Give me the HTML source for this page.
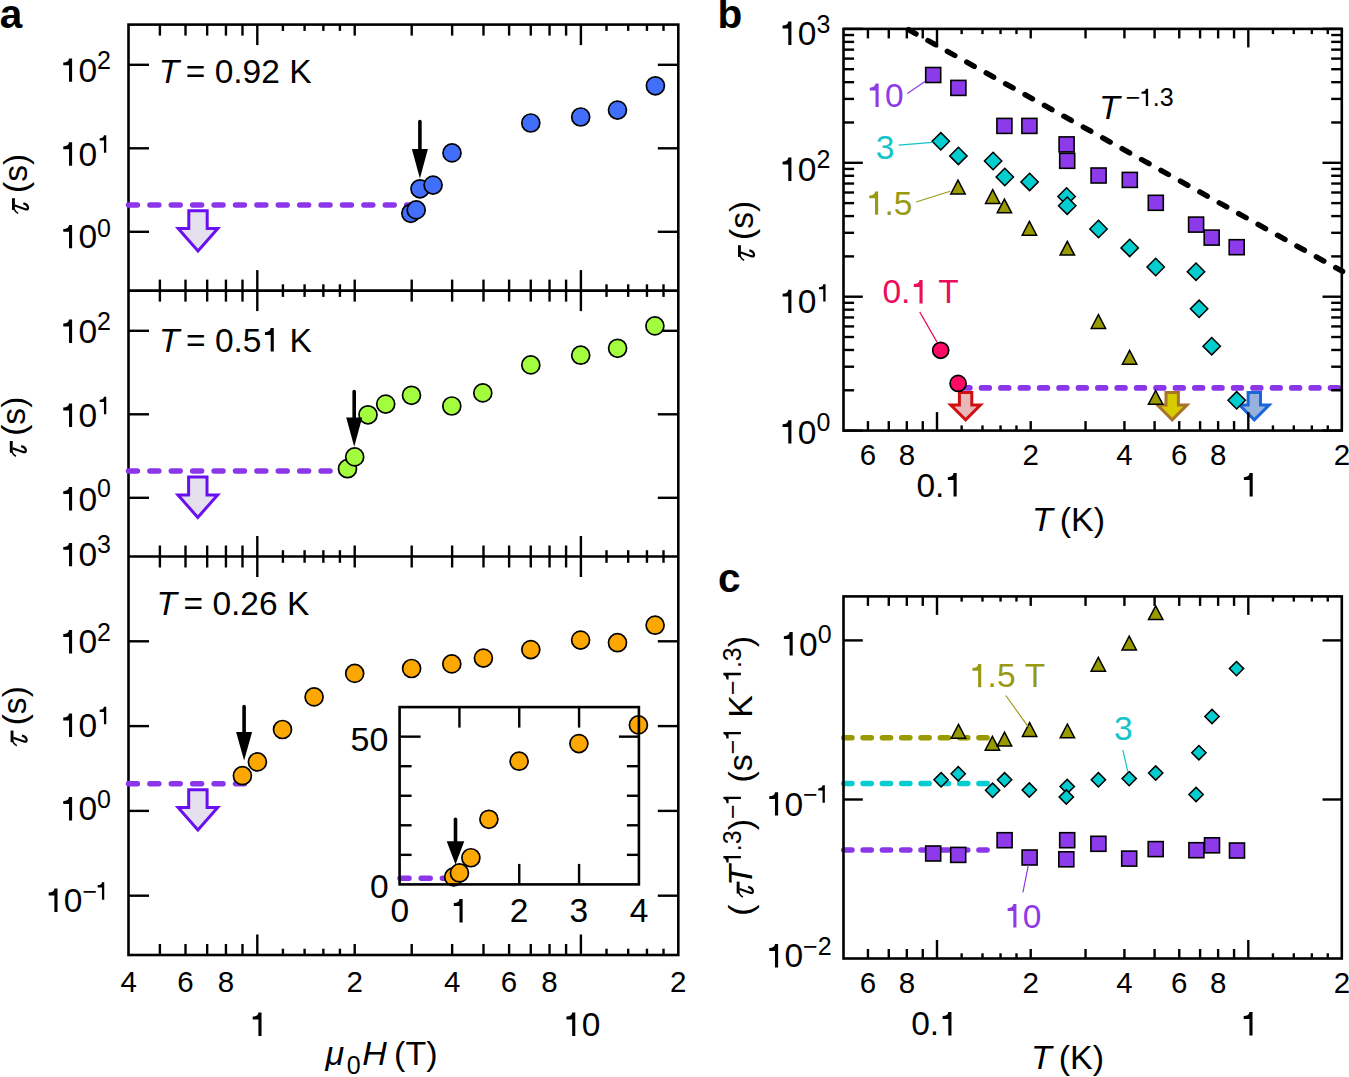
<!DOCTYPE html>
<html><head><meta charset="utf-8"><style>
html,body{margin:0;padding:0;background:#fff;overflow:hidden;}
svg{display:block;}
text{font-family:"Liberation Sans",sans-serif;font-kerning:none;}
</style></head><body>
<svg width="1349" height="1077" viewBox="0 0 1349 1077">
<rect width="1349" height="1077" fill="#fff"/>
<line x1="159.89" y1="24.60" x2="159.89" y2="35.60" stroke="#000" stroke-width="2.4" />
<line x1="185.51" y1="24.60" x2="185.51" y2="35.60" stroke="#000" stroke-width="2.4" />
<line x1="207.17" y1="24.60" x2="207.17" y2="35.60" stroke="#000" stroke-width="2.4" />
<line x1="225.94" y1="24.60" x2="225.94" y2="35.60" stroke="#000" stroke-width="2.4" />
<line x1="242.49" y1="24.60" x2="242.49" y2="35.60" stroke="#000" stroke-width="2.4" />
<line x1="354.71" y1="24.60" x2="354.71" y2="35.60" stroke="#000" stroke-width="2.4" />
<line x1="411.70" y1="24.60" x2="411.70" y2="35.60" stroke="#000" stroke-width="2.4" />
<line x1="452.13" y1="24.60" x2="452.13" y2="35.60" stroke="#000" stroke-width="2.4" />
<line x1="483.49" y1="24.60" x2="483.49" y2="35.60" stroke="#000" stroke-width="2.4" />
<line x1="509.11" y1="24.60" x2="509.11" y2="35.60" stroke="#000" stroke-width="2.4" />
<line x1="530.77" y1="24.60" x2="530.77" y2="35.60" stroke="#000" stroke-width="2.4" />
<line x1="549.54" y1="24.60" x2="549.54" y2="35.60" stroke="#000" stroke-width="2.4" />
<line x1="566.09" y1="24.60" x2="566.09" y2="35.60" stroke="#000" stroke-width="2.4" />
<line x1="282.92" y1="24.60" x2="282.92" y2="30.90" stroke="#000" stroke-width="2.4" />
<line x1="304.59" y1="24.60" x2="304.59" y2="30.90" stroke="#000" stroke-width="2.4" />
<line x1="323.35" y1="24.60" x2="323.35" y2="30.90" stroke="#000" stroke-width="2.4" />
<line x1="339.91" y1="24.60" x2="339.91" y2="30.90" stroke="#000" stroke-width="2.4" />
<line x1="606.52" y1="24.60" x2="606.52" y2="30.90" stroke="#000" stroke-width="2.4" />
<line x1="628.19" y1="24.60" x2="628.19" y2="30.90" stroke="#000" stroke-width="2.4" />
<line x1="646.95" y1="24.60" x2="646.95" y2="30.90" stroke="#000" stroke-width="2.4" />
<line x1="663.51" y1="24.60" x2="663.51" y2="30.90" stroke="#000" stroke-width="2.4" />
<line x1="257.30" y1="24.60" x2="257.30" y2="45.10" stroke="#000" stroke-width="2.4" />
<line x1="580.90" y1="24.60" x2="580.90" y2="45.10" stroke="#000" stroke-width="2.4" />
<line x1="159.89" y1="279.60" x2="159.89" y2="301.60" stroke="#000" stroke-width="2.4" />
<line x1="185.51" y1="279.60" x2="185.51" y2="301.60" stroke="#000" stroke-width="2.4" />
<line x1="207.17" y1="279.60" x2="207.17" y2="301.60" stroke="#000" stroke-width="2.4" />
<line x1="225.94" y1="279.60" x2="225.94" y2="301.60" stroke="#000" stroke-width="2.4" />
<line x1="242.49" y1="279.60" x2="242.49" y2="301.60" stroke="#000" stroke-width="2.4" />
<line x1="354.71" y1="279.60" x2="354.71" y2="301.60" stroke="#000" stroke-width="2.4" />
<line x1="411.70" y1="279.60" x2="411.70" y2="301.60" stroke="#000" stroke-width="2.4" />
<line x1="452.13" y1="279.60" x2="452.13" y2="301.60" stroke="#000" stroke-width="2.4" />
<line x1="483.49" y1="279.60" x2="483.49" y2="301.60" stroke="#000" stroke-width="2.4" />
<line x1="509.11" y1="279.60" x2="509.11" y2="301.60" stroke="#000" stroke-width="2.4" />
<line x1="530.77" y1="279.60" x2="530.77" y2="301.60" stroke="#000" stroke-width="2.4" />
<line x1="549.54" y1="279.60" x2="549.54" y2="301.60" stroke="#000" stroke-width="2.4" />
<line x1="566.09" y1="279.60" x2="566.09" y2="301.60" stroke="#000" stroke-width="2.4" />
<line x1="282.92" y1="284.30" x2="282.92" y2="296.90" stroke="#000" stroke-width="2.4" />
<line x1="304.59" y1="284.30" x2="304.59" y2="296.90" stroke="#000" stroke-width="2.4" />
<line x1="323.35" y1="284.30" x2="323.35" y2="296.90" stroke="#000" stroke-width="2.4" />
<line x1="339.91" y1="284.30" x2="339.91" y2="296.90" stroke="#000" stroke-width="2.4" />
<line x1="606.52" y1="284.30" x2="606.52" y2="296.90" stroke="#000" stroke-width="2.4" />
<line x1="628.19" y1="284.30" x2="628.19" y2="296.90" stroke="#000" stroke-width="2.4" />
<line x1="646.95" y1="284.30" x2="646.95" y2="296.90" stroke="#000" stroke-width="2.4" />
<line x1="663.51" y1="284.30" x2="663.51" y2="296.90" stroke="#000" stroke-width="2.4" />
<line x1="257.30" y1="270.10" x2="257.30" y2="311.10" stroke="#000" stroke-width="2.4" />
<line x1="580.90" y1="270.10" x2="580.90" y2="311.10" stroke="#000" stroke-width="2.4" />
<line x1="159.89" y1="545.50" x2="159.89" y2="567.50" stroke="#000" stroke-width="2.4" />
<line x1="185.51" y1="545.50" x2="185.51" y2="567.50" stroke="#000" stroke-width="2.4" />
<line x1="207.17" y1="545.50" x2="207.17" y2="567.50" stroke="#000" stroke-width="2.4" />
<line x1="225.94" y1="545.50" x2="225.94" y2="567.50" stroke="#000" stroke-width="2.4" />
<line x1="242.49" y1="545.50" x2="242.49" y2="567.50" stroke="#000" stroke-width="2.4" />
<line x1="354.71" y1="545.50" x2="354.71" y2="567.50" stroke="#000" stroke-width="2.4" />
<line x1="411.70" y1="545.50" x2="411.70" y2="567.50" stroke="#000" stroke-width="2.4" />
<line x1="452.13" y1="545.50" x2="452.13" y2="567.50" stroke="#000" stroke-width="2.4" />
<line x1="483.49" y1="545.50" x2="483.49" y2="567.50" stroke="#000" stroke-width="2.4" />
<line x1="509.11" y1="545.50" x2="509.11" y2="567.50" stroke="#000" stroke-width="2.4" />
<line x1="530.77" y1="545.50" x2="530.77" y2="567.50" stroke="#000" stroke-width="2.4" />
<line x1="549.54" y1="545.50" x2="549.54" y2="567.50" stroke="#000" stroke-width="2.4" />
<line x1="566.09" y1="545.50" x2="566.09" y2="567.50" stroke="#000" stroke-width="2.4" />
<line x1="282.92" y1="550.20" x2="282.92" y2="562.80" stroke="#000" stroke-width="2.4" />
<line x1="304.59" y1="550.20" x2="304.59" y2="562.80" stroke="#000" stroke-width="2.4" />
<line x1="323.35" y1="550.20" x2="323.35" y2="562.80" stroke="#000" stroke-width="2.4" />
<line x1="339.91" y1="550.20" x2="339.91" y2="562.80" stroke="#000" stroke-width="2.4" />
<line x1="606.52" y1="550.20" x2="606.52" y2="562.80" stroke="#000" stroke-width="2.4" />
<line x1="628.19" y1="550.20" x2="628.19" y2="562.80" stroke="#000" stroke-width="2.4" />
<line x1="646.95" y1="550.20" x2="646.95" y2="562.80" stroke="#000" stroke-width="2.4" />
<line x1="663.51" y1="550.20" x2="663.51" y2="562.80" stroke="#000" stroke-width="2.4" />
<line x1="257.30" y1="536.00" x2="257.30" y2="577.00" stroke="#000" stroke-width="2.4" />
<line x1="580.90" y1="536.00" x2="580.90" y2="577.00" stroke="#000" stroke-width="2.4" />
<line x1="159.89" y1="944.00" x2="159.89" y2="955.00" stroke="#000" stroke-width="2.4" />
<line x1="185.51" y1="944.00" x2="185.51" y2="955.00" stroke="#000" stroke-width="2.4" />
<line x1="207.17" y1="944.00" x2="207.17" y2="955.00" stroke="#000" stroke-width="2.4" />
<line x1="225.94" y1="944.00" x2="225.94" y2="955.00" stroke="#000" stroke-width="2.4" />
<line x1="242.49" y1="944.00" x2="242.49" y2="955.00" stroke="#000" stroke-width="2.4" />
<line x1="354.71" y1="944.00" x2="354.71" y2="955.00" stroke="#000" stroke-width="2.4" />
<line x1="411.70" y1="944.00" x2="411.70" y2="955.00" stroke="#000" stroke-width="2.4" />
<line x1="452.13" y1="944.00" x2="452.13" y2="955.00" stroke="#000" stroke-width="2.4" />
<line x1="483.49" y1="944.00" x2="483.49" y2="955.00" stroke="#000" stroke-width="2.4" />
<line x1="509.11" y1="944.00" x2="509.11" y2="955.00" stroke="#000" stroke-width="2.4" />
<line x1="530.77" y1="944.00" x2="530.77" y2="955.00" stroke="#000" stroke-width="2.4" />
<line x1="549.54" y1="944.00" x2="549.54" y2="955.00" stroke="#000" stroke-width="2.4" />
<line x1="566.09" y1="944.00" x2="566.09" y2="955.00" stroke="#000" stroke-width="2.4" />
<line x1="282.92" y1="948.70" x2="282.92" y2="955.00" stroke="#000" stroke-width="2.4" />
<line x1="304.59" y1="948.70" x2="304.59" y2="955.00" stroke="#000" stroke-width="2.4" />
<line x1="323.35" y1="948.70" x2="323.35" y2="955.00" stroke="#000" stroke-width="2.4" />
<line x1="339.91" y1="948.70" x2="339.91" y2="955.00" stroke="#000" stroke-width="2.4" />
<line x1="606.52" y1="948.70" x2="606.52" y2="955.00" stroke="#000" stroke-width="2.4" />
<line x1="628.19" y1="948.70" x2="628.19" y2="955.00" stroke="#000" stroke-width="2.4" />
<line x1="646.95" y1="948.70" x2="646.95" y2="955.00" stroke="#000" stroke-width="2.4" />
<line x1="663.51" y1="948.70" x2="663.51" y2="955.00" stroke="#000" stroke-width="2.4" />
<line x1="257.30" y1="934.50" x2="257.30" y2="955.00" stroke="#000" stroke-width="2.4" />
<line x1="580.90" y1="934.50" x2="580.90" y2="955.00" stroke="#000" stroke-width="2.4" />
<line x1="128.50" y1="64.80" x2="149.00" y2="64.80" stroke="#000" stroke-width="2.4" />
<line x1="657.80" y1="64.80" x2="678.30" y2="64.80" stroke="#000" stroke-width="2.4" />
<line x1="128.50" y1="148.30" x2="149.00" y2="148.30" stroke="#000" stroke-width="2.4" />
<line x1="657.80" y1="148.30" x2="678.30" y2="148.30" stroke="#000" stroke-width="2.4" />
<line x1="128.50" y1="231.80" x2="149.00" y2="231.80" stroke="#000" stroke-width="2.4" />
<line x1="657.80" y1="231.80" x2="678.30" y2="231.80" stroke="#000" stroke-width="2.4" />
<line x1="128.50" y1="330.80" x2="149.00" y2="330.80" stroke="#000" stroke-width="2.4" />
<line x1="657.80" y1="330.80" x2="678.30" y2="330.80" stroke="#000" stroke-width="2.4" />
<line x1="128.50" y1="414.30" x2="149.00" y2="414.30" stroke="#000" stroke-width="2.4" />
<line x1="657.80" y1="414.30" x2="678.30" y2="414.30" stroke="#000" stroke-width="2.4" />
<line x1="128.50" y1="497.80" x2="149.00" y2="497.80" stroke="#000" stroke-width="2.4" />
<line x1="657.80" y1="497.80" x2="678.30" y2="497.80" stroke="#000" stroke-width="2.4" />
<line x1="128.50" y1="641.30" x2="149.00" y2="641.30" stroke="#000" stroke-width="2.4" />
<line x1="657.80" y1="641.30" x2="678.30" y2="641.30" stroke="#000" stroke-width="2.4" />
<line x1="128.50" y1="726.10" x2="149.00" y2="726.10" stroke="#000" stroke-width="2.4" />
<line x1="657.80" y1="726.10" x2="678.30" y2="726.10" stroke="#000" stroke-width="2.4" />
<line x1="128.50" y1="810.90" x2="149.00" y2="810.90" stroke="#000" stroke-width="2.4" />
<line x1="657.80" y1="810.90" x2="678.30" y2="810.90" stroke="#000" stroke-width="2.4" />
<line x1="128.50" y1="895.70" x2="149.00" y2="895.70" stroke="#000" stroke-width="2.4" />
<line x1="657.80" y1="895.70" x2="678.30" y2="895.70" stroke="#000" stroke-width="2.4" />
<rect x="128.50" y="24.60" width="549.80" height="930.40" fill="none" stroke="#000" stroke-width="2.6"/>
<line x1="128.50" y1="290.60" x2="678.30" y2="290.60" stroke="#000" stroke-width="2.6" />
<line x1="128.50" y1="556.50" x2="678.30" y2="556.50" stroke="#000" stroke-width="2.6" />
<path d="M750,0L750,1430L560,1430C555,1260 430,1185 210,1180L210,1008L560,1008L560,0Z" transform="translate(59.83,81.80) scale(0.01636,-0.01636)" fill="#000"/>
<text x="78.47" y="81.80" font-size="33.5" fill="#000">0</text>
<text x="97.10" y="69.10" font-size="25" fill="#000">2</text>
<path d="M750,0L750,1430L560,1430C555,1260 430,1185 210,1180L210,1008L560,1008L560,0Z" transform="translate(59.83,165.70) scale(0.01636,-0.01636)" fill="#000"/>
<text x="78.47" y="165.70" font-size="33.5" fill="#000">0</text>
<path d="M750,0L750,1430L560,1430C555,1260 430,1185 210,1180L210,1008L560,1008L560,0Z" transform="translate(97.10,152.80) scale(0.01221,-0.01221)" fill="#000"/>
<path d="M750,0L750,1430L560,1430C555,1260 430,1185 210,1180L210,1008L560,1008L560,0Z" transform="translate(59.83,248.30) scale(0.01636,-0.01636)" fill="#000"/>
<text x="78.47" y="248.30" font-size="33.5" fill="#000">0</text>
<text x="97.10" y="236.75" font-size="25" fill="#000">0</text>
<path d="M750,0L750,1430L560,1430C555,1260 430,1185 210,1180L210,1008L560,1008L560,0Z" transform="translate(59.83,342.90) scale(0.01636,-0.01636)" fill="#000"/>
<text x="78.47" y="342.90" font-size="33.5" fill="#000">0</text>
<text x="97.10" y="330.20" font-size="25" fill="#000">2</text>
<path d="M750,0L750,1430L560,1430C555,1260 430,1185 210,1180L210,1008L560,1008L560,0Z" transform="translate(59.83,426.90) scale(0.01636,-0.01636)" fill="#000"/>
<text x="78.47" y="426.90" font-size="33.5" fill="#000">0</text>
<path d="M750,0L750,1430L560,1430C555,1260 430,1185 210,1180L210,1008L560,1008L560,0Z" transform="translate(97.10,414.20) scale(0.01221,-0.01221)" fill="#000"/>
<path d="M750,0L750,1430L560,1430C555,1260 430,1185 210,1180L210,1008L560,1008L560,0Z" transform="translate(59.83,510.50) scale(0.01636,-0.01636)" fill="#000"/>
<text x="78.47" y="510.50" font-size="33.5" fill="#000">0</text>
<text x="97.10" y="497.00" font-size="25" fill="#000">0</text>
<path d="M750,0L750,1430L560,1430C555,1260 430,1185 210,1180L210,1008L560,1008L560,0Z" transform="translate(59.83,566.30) scale(0.01636,-0.01636)" fill="#000"/>
<text x="78.47" y="566.30" font-size="33.5" fill="#000">0</text>
<text x="97.10" y="553.40" font-size="25" fill="#000">3</text>
<path d="M750,0L750,1430L560,1430C555,1260 430,1185 210,1180L210,1008L560,1008L560,0Z" transform="translate(59.83,653.40) scale(0.01636,-0.01636)" fill="#000"/>
<text x="78.47" y="653.40" font-size="33.5" fill="#000">0</text>
<text x="97.10" y="640.70" font-size="25" fill="#000">2</text>
<path d="M750,0L750,1430L560,1430C555,1260 430,1185 210,1180L210,1008L560,1008L560,0Z" transform="translate(59.83,736.90) scale(0.01636,-0.01636)" fill="#000"/>
<text x="78.47" y="736.90" font-size="33.5" fill="#000">0</text>
<path d="M750,0L750,1430L560,1430C555,1260 430,1185 210,1180L210,1008L560,1008L560,0Z" transform="translate(97.10,724.20) scale(0.01221,-0.01221)" fill="#000"/>
<path d="M750,0L750,1430L560,1430C555,1260 430,1185 210,1180L210,1008L560,1008L560,0Z" transform="translate(59.83,820.40) scale(0.01636,-0.01636)" fill="#000"/>
<text x="78.47" y="820.40" font-size="33.5" fill="#000">0</text>
<text x="97.10" y="808.20" font-size="25" fill="#000">0</text>
<path d="M750,0L750,1430L560,1430C555,1260 430,1185 210,1180L210,1008L560,1008L560,0Z" transform="translate(45.23,911.90) scale(0.01636,-0.01636)" fill="#000"/>
<text x="63.87" y="911.90" font-size="33.5" fill="#000">0</text>
<text x="82.50" y="899.70" font-size="25" fill="#000">−</text>
<path d="M750,0L750,1430L560,1430C555,1260 430,1185 210,1180L210,1008L560,1008L560,0Z" transform="translate(95.10,899.70) scale(0.01221,-0.01221)" fill="#000"/>
<g transform="translate(27.15,213.70) rotate(-90)">
<g transform="translate(-1.23,0.00) scale(1.0000)" fill="none" stroke="#000"><path d="M5.0,-13.7L16.7,-13.7" stroke-width="2.9"/><path d="M6.0,-13.0C4.3,-12.4 2.5,-11.0 1.5,-9.0" stroke-width="1.5"/><path d="M9.4,-12.4C8.3,-8.5 6.3,-4.2 5.6,-1.2C5.2,0.2 5.9,1.0 7.3,0.9C9.3,0.6 11.1,-1.5 11.6,-3.8" stroke-width="2.2"/></g>
<text x="20.67" y="0.00" font-size="33.6" fill="#000">(s)</text>
</g>
<g transform="translate(24.95,456.50) rotate(-90)">
<g transform="translate(-1.23,0.00) scale(1.0000)" fill="none" stroke="#000"><path d="M5.0,-13.7L16.7,-13.7" stroke-width="2.9"/><path d="M6.0,-13.0C4.3,-12.4 2.5,-11.0 1.5,-9.0" stroke-width="1.5"/><path d="M9.4,-12.4C8.3,-8.5 6.3,-4.2 5.6,-1.2C5.2,0.2 5.9,1.0 7.3,0.9C9.3,0.6 11.1,-1.5 11.6,-3.8" stroke-width="2.2"/></g>
<text x="20.67" y="0.00" font-size="33.6" fill="#000">(s)</text>
</g>
<g transform="translate(25.75,746.00) rotate(-90)">
<g transform="translate(-1.23,0.00) scale(1.0000)" fill="none" stroke="#000"><path d="M5.0,-13.7L16.7,-13.7" stroke-width="2.9"/><path d="M6.0,-13.0C4.3,-12.4 2.5,-11.0 1.5,-9.0" stroke-width="1.5"/><path d="M9.4,-12.4C8.3,-8.5 6.3,-4.2 5.6,-1.2C5.2,0.2 5.9,1.0 7.3,0.9C9.3,0.6 11.1,-1.5 11.6,-3.8" stroke-width="2.2"/></g>
<text x="20.67" y="0.00" font-size="33.6" fill="#000">(s)</text>
</g>
<text x="120.42" y="991.80" font-size="29.5" fill="#000">4</text>
<text x="177.21" y="991.80" font-size="29.5" fill="#000">6</text>
<text x="217.74" y="991.80" font-size="29.5" fill="#000">8</text>
<text x="346.51" y="991.80" font-size="29.5" fill="#000">2</text>
<text x="444.02" y="991.80" font-size="29.5" fill="#000">4</text>
<text x="500.81" y="991.80" font-size="29.5" fill="#000">6</text>
<text x="541.34" y="991.80" font-size="29.5" fill="#000">8</text>
<text x="670.11" y="991.80" font-size="29.5" fill="#000">2</text>
<path d="M750,0L750,1430L560,1430C555,1260 430,1185 210,1180L210,1008L560,1008L560,0Z" transform="translate(249.25,1035.90) scale(0.01636,-0.01636)" fill="#000"/>
<path d="M750,0L750,1430L560,1430C555,1260 430,1185 210,1180L210,1008L560,1008L560,0Z" transform="translate(563.01,1035.90) scale(0.01636,-0.01636)" fill="#000"/>
<text x="581.64" y="1035.90" font-size="33.5" fill="#000">0</text>
<text x="325.51" y="1065.30" font-size="34" font-style="italic" fill="#000">μ</text>
<text x="346.82" y="1073.65" font-size="25" fill="#000">0</text>
<text x="362.15" y="1065.30" font-size="34" font-style="italic" fill="#000">H</text>
<text x="394.09" y="1065.30" font-size="34" fill="#000">(T)</text>
<text x="158.69" y="83.30" font-size="33.5" font-style="italic" fill="#000">T</text>
<text x="185.76" y="83.30" font-size="33.5" fill="#000">=</text>
<text x="214.63" y="83.30" font-size="33.5" fill="#000">0.92</text>
<text x="289.14" y="83.30" font-size="33.5" fill="#000">K</text>
<text x="158.99" y="351.50" font-size="33.5" font-style="italic" fill="#000">T</text>
<text x="186.06" y="351.50" font-size="33.5" fill="#000">=</text>
<text x="214.93" y="351.50" font-size="33.5" fill="#000">0.5</text>
<path d="M750,0L750,1430L560,1430C555,1260 430,1185 210,1180L210,1008L560,1008L560,0Z" transform="translate(261.50,351.50) scale(0.01636,-0.01636)" fill="#000"/>
<text x="289.44" y="351.50" font-size="33.5" fill="#000">K</text>
<text x="156.49" y="614.60" font-size="33.5" font-style="italic" fill="#000">T</text>
<text x="183.56" y="614.60" font-size="33.5" fill="#000">=</text>
<text x="212.43" y="614.60" font-size="33.5" fill="#000">0.26</text>
<text x="286.94" y="614.60" font-size="33.5" fill="#000">K</text>
<line x1="128.50" y1="205.00" x2="417.00" y2="205.00" stroke="#8c36ea" stroke-width="5.5" stroke-linecap="round" stroke-dasharray="8.9 12.5" stroke-dashoffset="0"/>
<polygon points="188.80,210.70 207.20,210.70 207.20,228.60 217.80,228.60 198.00,251.00 178.20,228.60 188.80,228.60" fill="#e4e0ee" stroke="#6a10f0" stroke-width="3" stroke-linejoin="miter"/>
<line x1="128.50" y1="470.90" x2="351.40" y2="470.90" stroke="#8c36ea" stroke-width="5.5" stroke-linecap="round" stroke-dasharray="8.9 12.5" stroke-dashoffset="0"/>
<polygon points="188.60,477.10 207.00,477.10 207.00,495.00 217.60,495.00 197.80,517.40 178.00,495.00 188.60,495.00" fill="#e4e0ee" stroke="#6a10f0" stroke-width="3" stroke-linejoin="miter"/>
<line x1="128.50" y1="783.70" x2="244.50" y2="783.70" stroke="#8c36ea" stroke-width="5.5" stroke-linecap="round" stroke-dasharray="8.9 12.5" stroke-dashoffset="0"/>
<polygon points="188.70,789.70 207.10,789.70 207.10,807.60 217.70,807.60 197.90,830.00 178.10,807.60 188.70,807.60" fill="#e4e0ee" stroke="#6a10f0" stroke-width="3" stroke-linejoin="miter"/>
<circle cx="410.80" cy="213.30" r="9.0" fill="#416ffb" stroke="#000" stroke-width="1.7"/>
<circle cx="416.20" cy="209.90" r="9.0" fill="#416ffb" stroke="#000" stroke-width="1.7"/>
<circle cx="420.00" cy="188.80" r="9.0" fill="#416ffb" stroke="#000" stroke-width="1.7"/>
<circle cx="433.10" cy="185.10" r="9.0" fill="#416ffb" stroke="#000" stroke-width="1.7"/>
<circle cx="452.00" cy="152.90" r="9.0" fill="#416ffb" stroke="#000" stroke-width="1.7"/>
<circle cx="530.80" cy="123.00" r="9.0" fill="#416ffb" stroke="#000" stroke-width="1.7"/>
<circle cx="580.70" cy="117.00" r="9.0" fill="#416ffb" stroke="#000" stroke-width="1.7"/>
<circle cx="617.50" cy="110.10" r="9.0" fill="#416ffb" stroke="#000" stroke-width="1.7"/>
<circle cx="655.40" cy="85.80" r="9.0" fill="#416ffb" stroke="#000" stroke-width="1.7"/>
<line x1="419.90" y1="121.50" x2="419.90" y2="150.90" stroke="#000" stroke-width="3.6" stroke-linecap="round"/>
<polygon points="411.90,148.90 427.90,148.90 419.90,178.50" fill="#000"/>
<circle cx="347.50" cy="468.70" r="9.0" fill="#a2fd3e" stroke="#000" stroke-width="1.7"/>
<circle cx="354.70" cy="456.90" r="9.0" fill="#a2fd3e" stroke="#000" stroke-width="1.7"/>
<circle cx="368.00" cy="414.80" r="9.0" fill="#a2fd3e" stroke="#000" stroke-width="1.7"/>
<circle cx="385.70" cy="404.10" r="9.0" fill="#a2fd3e" stroke="#000" stroke-width="1.7"/>
<circle cx="411.50" cy="395.30" r="9.0" fill="#a2fd3e" stroke="#000" stroke-width="1.7"/>
<circle cx="451.80" cy="406.00" r="9.0" fill="#a2fd3e" stroke="#000" stroke-width="1.7"/>
<circle cx="482.80" cy="392.90" r="9.0" fill="#a2fd3e" stroke="#000" stroke-width="1.7"/>
<circle cx="530.80" cy="364.90" r="9.0" fill="#a2fd3e" stroke="#000" stroke-width="1.7"/>
<circle cx="580.70" cy="355.20" r="9.0" fill="#a2fd3e" stroke="#000" stroke-width="1.7"/>
<circle cx="617.60" cy="348.30" r="9.0" fill="#a2fd3e" stroke="#000" stroke-width="1.7"/>
<circle cx="654.90" cy="325.90" r="9.0" fill="#a2fd3e" stroke="#000" stroke-width="1.7"/>
<line x1="354.20" y1="391.50" x2="354.20" y2="419.40" stroke="#000" stroke-width="3.6" stroke-linecap="round"/>
<polygon points="346.20,417.40 362.20,417.40 354.20,446.80" fill="#000"/>
<circle cx="242.40" cy="775.70" r="9.0" fill="#fda802" stroke="#000" stroke-width="1.7"/>
<circle cx="257.40" cy="761.90" r="9.0" fill="#fda802" stroke="#000" stroke-width="1.7"/>
<circle cx="282.50" cy="729.50" r="9.0" fill="#fda802" stroke="#000" stroke-width="1.7"/>
<circle cx="314.10" cy="696.90" r="9.0" fill="#fda802" stroke="#000" stroke-width="1.7"/>
<circle cx="354.70" cy="673.40" r="9.0" fill="#fda802" stroke="#000" stroke-width="1.7"/>
<circle cx="411.60" cy="668.50" r="9.0" fill="#fda802" stroke="#000" stroke-width="1.7"/>
<circle cx="451.80" cy="663.90" r="9.0" fill="#fda802" stroke="#000" stroke-width="1.7"/>
<circle cx="483.40" cy="658.10" r="9.0" fill="#fda802" stroke="#000" stroke-width="1.7"/>
<circle cx="530.80" cy="649.60" r="9.0" fill="#fda802" stroke="#000" stroke-width="1.7"/>
<circle cx="580.60" cy="640.10" r="9.0" fill="#fda802" stroke="#000" stroke-width="1.7"/>
<circle cx="617.50" cy="642.70" r="9.0" fill="#fda802" stroke="#000" stroke-width="1.7"/>
<circle cx="655.10" cy="625.20" r="9.0" fill="#fda802" stroke="#000" stroke-width="1.7"/>
<line x1="244.10" y1="706.50" x2="244.10" y2="734.00" stroke="#000" stroke-width="3.6" stroke-linecap="round"/>
<polygon points="236.10,732.00 252.10,732.00 244.10,760.60" fill="#000"/>
<rect x="399.6" y="707.1" width="239.30" height="177.30" fill="#fff" stroke="none"/>
<line x1="459.43" y1="707.10" x2="459.43" y2="727.60" stroke="#000" stroke-width="2.4" />
<line x1="459.43" y1="884.40" x2="459.43" y2="863.90" stroke="#000" stroke-width="2.4" />
<line x1="519.25" y1="707.10" x2="519.25" y2="727.60" stroke="#000" stroke-width="2.4" />
<line x1="519.25" y1="884.40" x2="519.25" y2="863.90" stroke="#000" stroke-width="2.4" />
<line x1="579.08" y1="707.10" x2="579.08" y2="727.60" stroke="#000" stroke-width="2.4" />
<line x1="579.08" y1="884.40" x2="579.08" y2="863.90" stroke="#000" stroke-width="2.4" />
<line x1="399.60" y1="854.85" x2="411.60" y2="854.85" stroke="#000" stroke-width="2.4" />
<line x1="638.90" y1="854.85" x2="626.90" y2="854.85" stroke="#000" stroke-width="2.4" />
<line x1="399.60" y1="825.30" x2="411.60" y2="825.30" stroke="#000" stroke-width="2.4" />
<line x1="638.90" y1="825.30" x2="626.90" y2="825.30" stroke="#000" stroke-width="2.4" />
<line x1="399.60" y1="795.75" x2="411.60" y2="795.75" stroke="#000" stroke-width="2.4" />
<line x1="638.90" y1="795.75" x2="626.90" y2="795.75" stroke="#000" stroke-width="2.4" />
<line x1="399.60" y1="766.20" x2="411.60" y2="766.20" stroke="#000" stroke-width="2.4" />
<line x1="638.90" y1="766.20" x2="626.90" y2="766.20" stroke="#000" stroke-width="2.4" />
<line x1="399.60" y1="736.65" x2="420.60" y2="736.65" stroke="#000" stroke-width="2.4" />
<line x1="638.90" y1="736.65" x2="618.90" y2="736.65" stroke="#000" stroke-width="2.4" />
<line x1="400.00" y1="878.20" x2="450.00" y2="878.20" stroke="#8c36ea" stroke-width="5.5" stroke-linecap="round" stroke-dasharray="9.0 12.2" stroke-dashoffset="0"/>
<circle cx="453.70" cy="876.90" r="9.0" fill="#fda802" stroke="#000" stroke-width="1.7"/>
<circle cx="459.45" cy="872.95" r="9.0" fill="#fda802" stroke="#000" stroke-width="1.7"/>
<circle cx="470.90" cy="857.75" r="9.0" fill="#fda802" stroke="#000" stroke-width="1.7"/>
<circle cx="488.90" cy="819.30" r="9.0" fill="#fda802" stroke="#000" stroke-width="1.7"/>
<circle cx="519.10" cy="761.20" r="9.0" fill="#fda802" stroke="#000" stroke-width="1.7"/>
<circle cx="578.90" cy="743.60" r="9.0" fill="#fda802" stroke="#000" stroke-width="1.7"/>
<circle cx="638.40" cy="724.90" r="9.0" fill="#fda802" stroke="#000" stroke-width="1.7"/>
<line x1="455.50" y1="819.30" x2="455.50" y2="843.20" stroke="#000" stroke-width="3.6" stroke-linecap="round"/>
<polygon points="446.70,841.20 464.30,841.20 455.50,864.50" fill="#000"/>
<rect x="399.60" y="707.10" width="239.30" height="177.30" fill="none" stroke="#000" stroke-width="2.6"/>
<text x="350.51" y="750.50" font-size="34" fill="#000">50</text>
<text x="369.88" y="897.50" font-size="33.5" fill="#000">0</text>
<text x="390.58" y="922.40" font-size="33.5" fill="#000">0</text>
<path d="M750,0L750,1430L560,1430C555,1260 430,1185 210,1180L210,1008L560,1008L560,0Z" transform="translate(450.35,922.40) scale(0.01636,-0.01636)" fill="#000"/>
<text x="509.78" y="922.40" font-size="33.5" fill="#000">2</text>
<text x="569.38" y="922.40" font-size="33.5" fill="#000">3</text>
<text x="629.69" y="922.40" font-size="33.5" fill="#000">4</text>
<line x1="908.50" y1="29.68" x2="1342.60" y2="271.48" stroke="#000" stroke-width="5.4" stroke-linecap="round" stroke-dasharray="8.6 13.63"/>
<line x1="962.10" y1="387.90" x2="1339.00" y2="387.90" stroke="#8c36ea" stroke-width="5.6" stroke-linecap="round" stroke-dasharray="7.8 11.59" stroke-dashoffset="0"/>
<polygon points="959.40,392.60 971.80,392.60 971.80,405.10 980.40,405.10 965.60,419.80 950.80,405.10 959.40,405.10" fill="#e8b8b8" stroke="#d01010" stroke-width="3" stroke-linejoin="miter"/>
<polygon points="1166.00,392.60 1178.40,392.60 1178.40,405.10 1187.00,405.10 1172.20,419.80 1157.40,405.10 1166.00,405.10" fill="#d6cc00" stroke="#a8742c" stroke-width="3" stroke-linejoin="miter"/>
<polygon points="1248.10,392.60 1260.50,392.60 1260.50,405.10 1269.10,405.10 1254.30,419.80 1239.50,405.10 1248.10,405.10" fill="#98b2de" stroke="#1a66d8" stroke-width="3" stroke-linejoin="miter"/>
<rect x="925.70" y="67.50" width="15.0" height="15.0" fill="#8c3aea" stroke="#000" stroke-width="1.6"/>
<rect x="950.90" y="80.40" width="15.0" height="15.0" fill="#8c3aea" stroke="#000" stroke-width="1.6"/>
<rect x="996.90" y="118.40" width="15.0" height="15.0" fill="#8c3aea" stroke="#000" stroke-width="1.6"/>
<rect x="1021.90" y="118.40" width="15.0" height="15.0" fill="#8c3aea" stroke="#000" stroke-width="1.6"/>
<rect x="1059.10" y="136.90" width="15.0" height="15.0" fill="#8c3aea" stroke="#000" stroke-width="1.6"/>
<rect x="1059.70" y="153.30" width="15.0" height="15.0" fill="#8c3aea" stroke="#000" stroke-width="1.6"/>
<rect x="1091.10" y="168.00" width="15.0" height="15.0" fill="#8c3aea" stroke="#000" stroke-width="1.6"/>
<rect x="1122.30" y="172.40" width="15.0" height="15.0" fill="#8c3aea" stroke="#000" stroke-width="1.6"/>
<rect x="1148.30" y="195.30" width="15.0" height="15.0" fill="#8c3aea" stroke="#000" stroke-width="1.6"/>
<rect x="1188.60" y="217.10" width="15.0" height="15.0" fill="#8c3aea" stroke="#000" stroke-width="1.6"/>
<rect x="1204.20" y="230.10" width="15.0" height="15.0" fill="#8c3aea" stroke="#000" stroke-width="1.6"/>
<rect x="1229.20" y="239.70" width="15.0" height="15.0" fill="#8c3aea" stroke="#000" stroke-width="1.6"/>
<polygon points="940.80,132.60 949.50,141.30 940.80,150.00 932.10,141.30" fill="#04cdd0" stroke="#000" stroke-width="1.5" stroke-linejoin="miter"/>
<polygon points="958.40,147.20 967.10,155.90 958.40,164.60 949.70,155.90" fill="#04cdd0" stroke="#000" stroke-width="1.5" stroke-linejoin="miter"/>
<polygon points="993.10,152.30 1001.80,161.00 993.10,169.70 984.40,161.00" fill="#04cdd0" stroke="#000" stroke-width="1.5" stroke-linejoin="miter"/>
<polygon points="1004.80,168.30 1013.50,177.00 1004.80,185.70 996.10,177.00" fill="#04cdd0" stroke="#000" stroke-width="1.5" stroke-linejoin="miter"/>
<polygon points="1029.60,173.20 1038.30,181.90 1029.60,190.60 1020.90,181.90" fill="#04cdd0" stroke="#000" stroke-width="1.5" stroke-linejoin="miter"/>
<polygon points="1066.60,187.80 1075.30,196.50 1066.60,205.20 1057.90,196.50" fill="#04cdd0" stroke="#000" stroke-width="1.5" stroke-linejoin="miter"/>
<polygon points="1067.20,197.00 1075.90,205.70 1067.20,214.40 1058.50,205.70" fill="#04cdd0" stroke="#000" stroke-width="1.5" stroke-linejoin="miter"/>
<polygon points="1098.50,220.30 1107.20,229.00 1098.50,237.70 1089.80,229.00" fill="#04cdd0" stroke="#000" stroke-width="1.5" stroke-linejoin="miter"/>
<polygon points="1129.70,239.20 1138.40,247.90 1129.70,256.60 1121.00,247.90" fill="#04cdd0" stroke="#000" stroke-width="1.5" stroke-linejoin="miter"/>
<polygon points="1155.70,258.30 1164.40,267.00 1155.70,275.70 1147.00,267.00" fill="#04cdd0" stroke="#000" stroke-width="1.5" stroke-linejoin="miter"/>
<polygon points="1196.00,263.00 1204.70,271.70 1196.00,280.40 1187.30,271.70" fill="#04cdd0" stroke="#000" stroke-width="1.5" stroke-linejoin="miter"/>
<polygon points="1199.10,300.10 1207.80,308.80 1199.10,317.50 1190.40,308.80" fill="#04cdd0" stroke="#000" stroke-width="1.5" stroke-linejoin="miter"/>
<polygon points="1211.70,337.50 1220.40,346.20 1211.70,354.90 1203.00,346.20" fill="#04cdd0" stroke="#000" stroke-width="1.5" stroke-linejoin="miter"/>
<polygon points="1236.70,391.60 1245.40,400.30 1236.70,409.00 1228.00,400.30" fill="#04cdd0" stroke="#000" stroke-width="1.5" stroke-linejoin="miter"/>
<polygon points="958.00,180.20 965.20,194.00 950.80,194.00" fill="#999a00" stroke="#000" stroke-width="1.5" stroke-linejoin="miter"/>
<polygon points="992.70,189.60 999.90,203.40 985.50,203.40" fill="#999a00" stroke="#000" stroke-width="1.5" stroke-linejoin="miter"/>
<polygon points="1004.40,199.05 1011.60,212.85 997.20,212.85" fill="#999a00" stroke="#000" stroke-width="1.5" stroke-linejoin="miter"/>
<polygon points="1029.40,221.45 1036.60,235.25 1022.20,235.25" fill="#999a00" stroke="#000" stroke-width="1.5" stroke-linejoin="miter"/>
<polygon points="1067.30,241.30 1074.50,255.10 1060.10,255.10" fill="#999a00" stroke="#000" stroke-width="1.5" stroke-linejoin="miter"/>
<polygon points="1098.40,314.65 1105.60,328.45 1091.20,328.45" fill="#999a00" stroke="#000" stroke-width="1.5" stroke-linejoin="miter"/>
<polygon points="1129.60,350.45 1136.80,364.25 1122.40,364.25" fill="#999a00" stroke="#000" stroke-width="1.5" stroke-linejoin="miter"/>
<polygon points="1155.60,390.50 1162.80,404.30 1148.40,404.30" fill="#999a00" stroke="#000" stroke-width="1.5" stroke-linejoin="miter"/>
<circle cx="940.70" cy="350.30" r="8.0" fill="#ff0a64" stroke="#000" stroke-width="1.7"/>
<circle cx="958.10" cy="383.40" r="8.0" fill="#ff0a64" stroke="#000" stroke-width="1.7"/>
<line x1="867.94" y1="28.90" x2="867.94" y2="38.40" stroke="#000" stroke-width="2.4" />
<line x1="867.94" y1="430.60" x2="867.94" y2="421.10" stroke="#000" stroke-width="2.4" />
<line x1="888.78" y1="28.90" x2="888.78" y2="38.40" stroke="#000" stroke-width="2.4" />
<line x1="888.78" y1="430.60" x2="888.78" y2="421.10" stroke="#000" stroke-width="2.4" />
<line x1="906.83" y1="28.90" x2="906.83" y2="38.40" stroke="#000" stroke-width="2.4" />
<line x1="906.83" y1="430.60" x2="906.83" y2="421.10" stroke="#000" stroke-width="2.4" />
<line x1="922.76" y1="28.90" x2="922.76" y2="38.40" stroke="#000" stroke-width="2.4" />
<line x1="922.76" y1="430.60" x2="922.76" y2="421.10" stroke="#000" stroke-width="2.4" />
<line x1="1030.71" y1="28.90" x2="1030.71" y2="38.40" stroke="#000" stroke-width="2.4" />
<line x1="1030.71" y1="430.60" x2="1030.71" y2="421.10" stroke="#000" stroke-width="2.4" />
<line x1="1085.53" y1="28.90" x2="1085.53" y2="38.40" stroke="#000" stroke-width="2.4" />
<line x1="1085.53" y1="430.60" x2="1085.53" y2="421.10" stroke="#000" stroke-width="2.4" />
<line x1="1124.42" y1="28.90" x2="1124.42" y2="38.40" stroke="#000" stroke-width="2.4" />
<line x1="1124.42" y1="430.60" x2="1124.42" y2="421.10" stroke="#000" stroke-width="2.4" />
<line x1="1154.59" y1="28.90" x2="1154.59" y2="38.40" stroke="#000" stroke-width="2.4" />
<line x1="1154.59" y1="430.60" x2="1154.59" y2="421.10" stroke="#000" stroke-width="2.4" />
<line x1="1179.24" y1="28.90" x2="1179.24" y2="38.40" stroke="#000" stroke-width="2.4" />
<line x1="1179.24" y1="430.60" x2="1179.24" y2="421.10" stroke="#000" stroke-width="2.4" />
<line x1="1200.08" y1="28.90" x2="1200.08" y2="38.40" stroke="#000" stroke-width="2.4" />
<line x1="1200.08" y1="430.60" x2="1200.08" y2="421.10" stroke="#000" stroke-width="2.4" />
<line x1="1218.13" y1="28.90" x2="1218.13" y2="38.40" stroke="#000" stroke-width="2.4" />
<line x1="1218.13" y1="430.60" x2="1218.13" y2="421.10" stroke="#000" stroke-width="2.4" />
<line x1="1234.06" y1="28.90" x2="1234.06" y2="38.40" stroke="#000" stroke-width="2.4" />
<line x1="1234.06" y1="430.60" x2="1234.06" y2="421.10" stroke="#000" stroke-width="2.4" />
<line x1="961.65" y1="28.90" x2="961.65" y2="34.10" stroke="#000" stroke-width="2.4" />
<line x1="961.65" y1="430.60" x2="961.65" y2="425.40" stroke="#000" stroke-width="2.4" />
<line x1="982.49" y1="28.90" x2="982.49" y2="34.10" stroke="#000" stroke-width="2.4" />
<line x1="982.49" y1="430.60" x2="982.49" y2="425.40" stroke="#000" stroke-width="2.4" />
<line x1="1000.54" y1="28.90" x2="1000.54" y2="34.10" stroke="#000" stroke-width="2.4" />
<line x1="1000.54" y1="430.60" x2="1000.54" y2="425.40" stroke="#000" stroke-width="2.4" />
<line x1="1016.47" y1="28.90" x2="1016.47" y2="34.10" stroke="#000" stroke-width="2.4" />
<line x1="1016.47" y1="430.60" x2="1016.47" y2="425.40" stroke="#000" stroke-width="2.4" />
<line x1="1272.95" y1="28.90" x2="1272.95" y2="34.10" stroke="#000" stroke-width="2.4" />
<line x1="1272.95" y1="430.60" x2="1272.95" y2="425.40" stroke="#000" stroke-width="2.4" />
<line x1="1293.79" y1="28.90" x2="1293.79" y2="34.10" stroke="#000" stroke-width="2.4" />
<line x1="1293.79" y1="430.60" x2="1293.79" y2="425.40" stroke="#000" stroke-width="2.4" />
<line x1="1311.84" y1="28.90" x2="1311.84" y2="34.10" stroke="#000" stroke-width="2.4" />
<line x1="1311.84" y1="430.60" x2="1311.84" y2="425.40" stroke="#000" stroke-width="2.4" />
<line x1="1327.77" y1="28.90" x2="1327.77" y2="34.10" stroke="#000" stroke-width="2.4" />
<line x1="1327.77" y1="430.60" x2="1327.77" y2="425.40" stroke="#000" stroke-width="2.4" />
<line x1="937.00" y1="28.90" x2="937.00" y2="47.40" stroke="#000" stroke-width="2.4" />
<line x1="937.00" y1="430.60" x2="937.00" y2="412.10" stroke="#000" stroke-width="2.4" />
<line x1="1248.30" y1="28.90" x2="1248.30" y2="47.40" stroke="#000" stroke-width="2.4" />
<line x1="1248.30" y1="430.60" x2="1248.30" y2="412.10" stroke="#000" stroke-width="2.4" />
<line x1="843.50" y1="390.29" x2="854.10" y2="390.29" stroke="#000" stroke-width="2.4" />
<line x1="1341.80" y1="390.29" x2="1331.20" y2="390.29" stroke="#000" stroke-width="2.4" />
<line x1="843.50" y1="366.71" x2="854.10" y2="366.71" stroke="#000" stroke-width="2.4" />
<line x1="1341.80" y1="366.71" x2="1331.20" y2="366.71" stroke="#000" stroke-width="2.4" />
<line x1="843.50" y1="349.98" x2="854.10" y2="349.98" stroke="#000" stroke-width="2.4" />
<line x1="1341.80" y1="349.98" x2="1331.20" y2="349.98" stroke="#000" stroke-width="2.4" />
<line x1="843.50" y1="337.01" x2="854.10" y2="337.01" stroke="#000" stroke-width="2.4" />
<line x1="1341.80" y1="337.01" x2="1331.20" y2="337.01" stroke="#000" stroke-width="2.4" />
<line x1="843.50" y1="326.41" x2="854.10" y2="326.41" stroke="#000" stroke-width="2.4" />
<line x1="1341.80" y1="326.41" x2="1331.20" y2="326.41" stroke="#000" stroke-width="2.4" />
<line x1="843.50" y1="317.44" x2="854.10" y2="317.44" stroke="#000" stroke-width="2.4" />
<line x1="1341.80" y1="317.44" x2="1331.20" y2="317.44" stroke="#000" stroke-width="2.4" />
<line x1="843.50" y1="309.68" x2="854.10" y2="309.68" stroke="#000" stroke-width="2.4" />
<line x1="1341.80" y1="309.68" x2="1331.20" y2="309.68" stroke="#000" stroke-width="2.4" />
<line x1="843.50" y1="302.83" x2="854.10" y2="302.83" stroke="#000" stroke-width="2.4" />
<line x1="1341.80" y1="302.83" x2="1331.20" y2="302.83" stroke="#000" stroke-width="2.4" />
<line x1="843.50" y1="256.39" x2="854.10" y2="256.39" stroke="#000" stroke-width="2.4" />
<line x1="1341.80" y1="256.39" x2="1331.20" y2="256.39" stroke="#000" stroke-width="2.4" />
<line x1="843.50" y1="232.81" x2="854.10" y2="232.81" stroke="#000" stroke-width="2.4" />
<line x1="1341.80" y1="232.81" x2="1331.20" y2="232.81" stroke="#000" stroke-width="2.4" />
<line x1="843.50" y1="216.08" x2="854.10" y2="216.08" stroke="#000" stroke-width="2.4" />
<line x1="1341.80" y1="216.08" x2="1331.20" y2="216.08" stroke="#000" stroke-width="2.4" />
<line x1="843.50" y1="203.11" x2="854.10" y2="203.11" stroke="#000" stroke-width="2.4" />
<line x1="1341.80" y1="203.11" x2="1331.20" y2="203.11" stroke="#000" stroke-width="2.4" />
<line x1="843.50" y1="192.51" x2="854.10" y2="192.51" stroke="#000" stroke-width="2.4" />
<line x1="1341.80" y1="192.51" x2="1331.20" y2="192.51" stroke="#000" stroke-width="2.4" />
<line x1="843.50" y1="183.54" x2="854.10" y2="183.54" stroke="#000" stroke-width="2.4" />
<line x1="1341.80" y1="183.54" x2="1331.20" y2="183.54" stroke="#000" stroke-width="2.4" />
<line x1="843.50" y1="175.78" x2="854.10" y2="175.78" stroke="#000" stroke-width="2.4" />
<line x1="1341.80" y1="175.78" x2="1331.20" y2="175.78" stroke="#000" stroke-width="2.4" />
<line x1="843.50" y1="168.93" x2="854.10" y2="168.93" stroke="#000" stroke-width="2.4" />
<line x1="1341.80" y1="168.93" x2="1331.20" y2="168.93" stroke="#000" stroke-width="2.4" />
<line x1="843.50" y1="122.49" x2="854.10" y2="122.49" stroke="#000" stroke-width="2.4" />
<line x1="1341.80" y1="122.49" x2="1331.20" y2="122.49" stroke="#000" stroke-width="2.4" />
<line x1="843.50" y1="98.91" x2="854.10" y2="98.91" stroke="#000" stroke-width="2.4" />
<line x1="1341.80" y1="98.91" x2="1331.20" y2="98.91" stroke="#000" stroke-width="2.4" />
<line x1="843.50" y1="82.18" x2="854.10" y2="82.18" stroke="#000" stroke-width="2.4" />
<line x1="1341.80" y1="82.18" x2="1331.20" y2="82.18" stroke="#000" stroke-width="2.4" />
<line x1="843.50" y1="69.21" x2="854.10" y2="69.21" stroke="#000" stroke-width="2.4" />
<line x1="1341.80" y1="69.21" x2="1331.20" y2="69.21" stroke="#000" stroke-width="2.4" />
<line x1="843.50" y1="58.61" x2="854.10" y2="58.61" stroke="#000" stroke-width="2.4" />
<line x1="1341.80" y1="58.61" x2="1331.20" y2="58.61" stroke="#000" stroke-width="2.4" />
<line x1="843.50" y1="49.64" x2="854.10" y2="49.64" stroke="#000" stroke-width="2.4" />
<line x1="1341.80" y1="49.64" x2="1331.20" y2="49.64" stroke="#000" stroke-width="2.4" />
<line x1="843.50" y1="41.88" x2="854.10" y2="41.88" stroke="#000" stroke-width="2.4" />
<line x1="1341.80" y1="41.88" x2="1331.20" y2="41.88" stroke="#000" stroke-width="2.4" />
<line x1="843.50" y1="35.03" x2="854.10" y2="35.03" stroke="#000" stroke-width="2.4" />
<line x1="1341.80" y1="35.03" x2="1331.20" y2="35.03" stroke="#000" stroke-width="2.4" />
<line x1="843.50" y1="430.60" x2="862.80" y2="430.60" stroke="#000" stroke-width="2.4" />
<line x1="1341.80" y1="430.60" x2="1322.50" y2="430.60" stroke="#000" stroke-width="2.4" />
<line x1="843.50" y1="296.70" x2="862.80" y2="296.70" stroke="#000" stroke-width="2.4" />
<line x1="1341.80" y1="296.70" x2="1322.50" y2="296.70" stroke="#000" stroke-width="2.4" />
<line x1="843.50" y1="162.80" x2="862.80" y2="162.80" stroke="#000" stroke-width="2.4" />
<line x1="1341.80" y1="162.80" x2="1322.50" y2="162.80" stroke="#000" stroke-width="2.4" />
<line x1="843.50" y1="28.90" x2="862.80" y2="28.90" stroke="#000" stroke-width="2.4" />
<line x1="1341.80" y1="28.90" x2="1322.50" y2="28.90" stroke="#000" stroke-width="2.4" />
<rect x="843.50" y="28.90" width="498.30" height="401.70" fill="none" stroke="#000" stroke-width="2.6"/>
<path d="M750,0L750,1430L560,1430C555,1260 430,1185 210,1180L210,1008L560,1008L560,0Z" transform="translate(866.36,107.00) scale(0.01636,-0.01636)" fill="#8e3ae6"/>
<text x="885.00" y="107.00" font-size="33.5" fill="#8e3ae6">0</text>
<line x1="907.30" y1="93.50" x2="925.00" y2="81.60" stroke="#8e3ae6" stroke-width="1.2" />
<text x="875.82" y="159.30" font-size="33.5" fill="#14c4c8">3</text>
<line x1="898.50" y1="145.20" x2="932.60" y2="142.30" stroke="#14c4c8" stroke-width="1.2" />
<path d="M750,0L750,1430L560,1430C555,1260 430,1185 210,1180L210,1008L560,1008L560,0Z" transform="translate(865.86,214.80) scale(0.01636,-0.01636)" fill="#9a9a12"/>
<text x="884.50" y="214.80" font-size="33.5" fill="#9a9a12">.5</text>
<line x1="916.10" y1="202.00" x2="950.20" y2="191.20" stroke="#9a9a12" stroke-width="1.2" />
<text x="882.39" y="303.40" font-size="33.5" fill="#ec0c5c">0.</text>
<path d="M750,0L750,1430L560,1430C555,1260 430,1185 210,1180L210,1008L560,1008L560,0Z" transform="translate(910.33,303.40) scale(0.01636,-0.01636)" fill="#ec0c5c"/>
<text x="938.27" y="303.40" font-size="33.5" fill="#ec0c5c">T</text>
<line x1="919.70" y1="311.90" x2="937.00" y2="342.10" stroke="#ec0c5c" stroke-width="1.2" />
<text x="1098.95" y="118.70" font-size="34" font-style="italic" fill="#000">T</text>
<text x="1125.67" y="106.10" font-size="25" fill="#000">−</text>
<path d="M750,0L750,1430L560,1430C555,1260 430,1185 210,1180L210,1008L560,1008L560,0Z" transform="translate(1138.97,106.10) scale(0.01221,-0.01221)" fill="#000"/>
<text x="1152.87" y="106.10" font-size="25" fill="#000">.3</text>
<path d="M750,0L750,1430L560,1430C555,1260 430,1185 210,1180L210,1008L560,1008L560,0Z" transform="translate(779.13,44.90) scale(0.01636,-0.01636)" fill="#000"/>
<text x="797.77" y="44.90" font-size="33.5" fill="#000">0</text>
<text x="816.40" y="32.65" font-size="25" fill="#000">3</text>
<path d="M750,0L750,1430L560,1430C555,1260 430,1185 210,1180L210,1008L560,1008L560,0Z" transform="translate(779.13,181.00) scale(0.01636,-0.01636)" fill="#000"/>
<text x="797.77" y="181.00" font-size="33.5" fill="#000">0</text>
<text x="816.40" y="168.30" font-size="25" fill="#000">2</text>
<path d="M750,0L750,1430L560,1430C555,1260 430,1185 210,1180L210,1008L560,1008L560,0Z" transform="translate(779.13,313.10) scale(0.01636,-0.01636)" fill="#000"/>
<text x="797.77" y="313.10" font-size="33.5" fill="#000">0</text>
<path d="M750,0L750,1430L560,1430C555,1260 430,1185 210,1180L210,1008L560,1008L560,0Z" transform="translate(816.40,301.60) scale(0.01221,-0.01221)" fill="#000"/>
<path d="M750,0L750,1430L560,1430C555,1260 430,1185 210,1180L210,1008L560,1008L560,0Z" transform="translate(779.13,443.60) scale(0.01636,-0.01636)" fill="#000"/>
<text x="797.77" y="443.60" font-size="33.5" fill="#000">0</text>
<text x="816.40" y="431.15" font-size="25" fill="#000">0</text>
<g transform="translate(753.15,260.70) rotate(-90)">
<g transform="translate(-1.23,0.00) scale(1.0000)" fill="none" stroke="#000"><path d="M5.0,-13.7L16.7,-13.7" stroke-width="2.9"/><path d="M6.0,-13.0C4.3,-12.4 2.5,-11.0 1.5,-9.0" stroke-width="1.5"/><path d="M9.4,-12.4C8.3,-8.5 6.3,-4.2 5.6,-1.2C5.2,0.2 5.9,1.0 7.3,0.9C9.3,0.6 11.1,-1.5 11.6,-3.8" stroke-width="2.2"/></g>
<text x="20.67" y="0.00" font-size="33.6" fill="#000">(s)</text>
</g>
<text x="859.63" y="465.10" font-size="29.5" fill="#000">6</text>
<text x="898.63" y="465.10" font-size="29.5" fill="#000">8</text>
<text x="1022.51" y="465.10" font-size="29.5" fill="#000">2</text>
<text x="1116.31" y="465.10" font-size="29.5" fill="#000">4</text>
<text x="1170.93" y="465.10" font-size="29.5" fill="#000">6</text>
<text x="1209.93" y="465.10" font-size="29.5" fill="#000">8</text>
<text x="1333.81" y="465.10" font-size="29.5" fill="#000">2</text>
<text x="916.44" y="496.50" font-size="33.5" fill="#000">0.</text>
<path d="M750,0L750,1430L560,1430C555,1260 430,1185 210,1180L210,1008L560,1008L560,0Z" transform="translate(944.38,496.50) scale(0.01636,-0.01636)" fill="#000"/>
<path d="M750,0L750,1430L560,1430C555,1260 430,1185 210,1180L210,1008L560,1008L560,0Z" transform="translate(1240.45,496.50) scale(0.01636,-0.01636)" fill="#000"/>
<text x="1031.95" y="531.40" font-size="34" font-style="italic" fill="#000">T</text>
<text x="1059.71" y="531.40" font-size="34" fill="#000">(K)</text>
<line x1="867.94" y1="596.40" x2="867.94" y2="605.90" stroke="#000" stroke-width="2.4" />
<line x1="867.94" y1="958.50" x2="867.94" y2="949.00" stroke="#000" stroke-width="2.4" />
<line x1="888.78" y1="596.40" x2="888.78" y2="605.90" stroke="#000" stroke-width="2.4" />
<line x1="888.78" y1="958.50" x2="888.78" y2="949.00" stroke="#000" stroke-width="2.4" />
<line x1="906.83" y1="596.40" x2="906.83" y2="605.90" stroke="#000" stroke-width="2.4" />
<line x1="906.83" y1="958.50" x2="906.83" y2="949.00" stroke="#000" stroke-width="2.4" />
<line x1="922.76" y1="596.40" x2="922.76" y2="605.90" stroke="#000" stroke-width="2.4" />
<line x1="922.76" y1="958.50" x2="922.76" y2="949.00" stroke="#000" stroke-width="2.4" />
<line x1="1030.71" y1="596.40" x2="1030.71" y2="605.90" stroke="#000" stroke-width="2.4" />
<line x1="1030.71" y1="958.50" x2="1030.71" y2="949.00" stroke="#000" stroke-width="2.4" />
<line x1="1085.53" y1="596.40" x2="1085.53" y2="605.90" stroke="#000" stroke-width="2.4" />
<line x1="1085.53" y1="958.50" x2="1085.53" y2="949.00" stroke="#000" stroke-width="2.4" />
<line x1="1124.42" y1="596.40" x2="1124.42" y2="605.90" stroke="#000" stroke-width="2.4" />
<line x1="1124.42" y1="958.50" x2="1124.42" y2="949.00" stroke="#000" stroke-width="2.4" />
<line x1="1154.59" y1="596.40" x2="1154.59" y2="605.90" stroke="#000" stroke-width="2.4" />
<line x1="1154.59" y1="958.50" x2="1154.59" y2="949.00" stroke="#000" stroke-width="2.4" />
<line x1="1179.24" y1="596.40" x2="1179.24" y2="605.90" stroke="#000" stroke-width="2.4" />
<line x1="1179.24" y1="958.50" x2="1179.24" y2="949.00" stroke="#000" stroke-width="2.4" />
<line x1="1200.08" y1="596.40" x2="1200.08" y2="605.90" stroke="#000" stroke-width="2.4" />
<line x1="1200.08" y1="958.50" x2="1200.08" y2="949.00" stroke="#000" stroke-width="2.4" />
<line x1="1218.13" y1="596.40" x2="1218.13" y2="605.90" stroke="#000" stroke-width="2.4" />
<line x1="1218.13" y1="958.50" x2="1218.13" y2="949.00" stroke="#000" stroke-width="2.4" />
<line x1="1234.06" y1="596.40" x2="1234.06" y2="605.90" stroke="#000" stroke-width="2.4" />
<line x1="1234.06" y1="958.50" x2="1234.06" y2="949.00" stroke="#000" stroke-width="2.4" />
<line x1="961.65" y1="596.40" x2="961.65" y2="601.60" stroke="#000" stroke-width="2.4" />
<line x1="961.65" y1="958.50" x2="961.65" y2="953.30" stroke="#000" stroke-width="2.4" />
<line x1="982.49" y1="596.40" x2="982.49" y2="601.60" stroke="#000" stroke-width="2.4" />
<line x1="982.49" y1="958.50" x2="982.49" y2="953.30" stroke="#000" stroke-width="2.4" />
<line x1="1000.54" y1="596.40" x2="1000.54" y2="601.60" stroke="#000" stroke-width="2.4" />
<line x1="1000.54" y1="958.50" x2="1000.54" y2="953.30" stroke="#000" stroke-width="2.4" />
<line x1="1016.47" y1="596.40" x2="1016.47" y2="601.60" stroke="#000" stroke-width="2.4" />
<line x1="1016.47" y1="958.50" x2="1016.47" y2="953.30" stroke="#000" stroke-width="2.4" />
<line x1="1272.95" y1="596.40" x2="1272.95" y2="601.60" stroke="#000" stroke-width="2.4" />
<line x1="1272.95" y1="958.50" x2="1272.95" y2="953.30" stroke="#000" stroke-width="2.4" />
<line x1="1293.79" y1="596.40" x2="1293.79" y2="601.60" stroke="#000" stroke-width="2.4" />
<line x1="1293.79" y1="958.50" x2="1293.79" y2="953.30" stroke="#000" stroke-width="2.4" />
<line x1="1311.84" y1="596.40" x2="1311.84" y2="601.60" stroke="#000" stroke-width="2.4" />
<line x1="1311.84" y1="958.50" x2="1311.84" y2="953.30" stroke="#000" stroke-width="2.4" />
<line x1="1327.77" y1="596.40" x2="1327.77" y2="601.60" stroke="#000" stroke-width="2.4" />
<line x1="1327.77" y1="958.50" x2="1327.77" y2="953.30" stroke="#000" stroke-width="2.4" />
<line x1="937.00" y1="596.40" x2="937.00" y2="614.90" stroke="#000" stroke-width="2.4" />
<line x1="937.00" y1="958.50" x2="937.00" y2="940.00" stroke="#000" stroke-width="2.4" />
<line x1="1248.30" y1="596.40" x2="1248.30" y2="614.90" stroke="#000" stroke-width="2.4" />
<line x1="1248.30" y1="958.50" x2="1248.30" y2="940.00" stroke="#000" stroke-width="2.4" />
<line x1="843.50" y1="640.40" x2="862.80" y2="640.40" stroke="#000" stroke-width="2.4" />
<line x1="1341.80" y1="640.40" x2="1322.50" y2="640.40" stroke="#000" stroke-width="2.4" />
<line x1="843.50" y1="799.50" x2="862.80" y2="799.50" stroke="#000" stroke-width="2.4" />
<line x1="1341.80" y1="799.50" x2="1322.50" y2="799.50" stroke="#000" stroke-width="2.4" />
<line x1="843.75" y1="737.70" x2="987.10" y2="737.70" stroke="#999a00" stroke-width="5.5" stroke-linecap="round" stroke-dasharray="8.2 11.11" stroke-dashoffset="0"/>
<line x1="843.75" y1="783.40" x2="987.10" y2="783.40" stroke="#04cdd0" stroke-width="5.5" stroke-linecap="round" stroke-dasharray="8.2 11.11" stroke-dashoffset="0"/>
<line x1="843.75" y1="850.10" x2="987.10" y2="850.10" stroke="#8c36ea" stroke-width="5.5" stroke-linecap="round" stroke-dasharray="8.2 11.11" stroke-dashoffset="0"/>
<rect x="925.70" y="846.00" width="15.0" height="15.0" fill="#8c3aea" stroke="#000" stroke-width="1.6"/>
<rect x="950.70" y="847.40" width="15.0" height="15.0" fill="#8c3aea" stroke="#000" stroke-width="1.6"/>
<rect x="997.10" y="832.70" width="15.0" height="15.0" fill="#8c3aea" stroke="#000" stroke-width="1.6"/>
<rect x="1022.10" y="850.00" width="15.0" height="15.0" fill="#8c3aea" stroke="#000" stroke-width="1.6"/>
<rect x="1059.70" y="832.70" width="15.0" height="15.0" fill="#8c3aea" stroke="#000" stroke-width="1.6"/>
<rect x="1058.80" y="851.80" width="15.0" height="15.0" fill="#8c3aea" stroke="#000" stroke-width="1.6"/>
<rect x="1090.90" y="836.30" width="15.0" height="15.0" fill="#8c3aea" stroke="#000" stroke-width="1.6"/>
<rect x="1121.70" y="851.10" width="15.0" height="15.0" fill="#8c3aea" stroke="#000" stroke-width="1.6"/>
<rect x="1148.20" y="841.60" width="15.0" height="15.0" fill="#8c3aea" stroke="#000" stroke-width="1.6"/>
<rect x="1204.50" y="837.80" width="15.0" height="15.0" fill="#8c3aea" stroke="#000" stroke-width="1.6"/>
<rect x="1188.90" y="842.70" width="15.0" height="15.0" fill="#8c3aea" stroke="#000" stroke-width="1.6"/>
<rect x="1229.50" y="843.00" width="15.0" height="15.0" fill="#8c3aea" stroke="#000" stroke-width="1.6"/>
<polygon points="941.10,772.65 948.25,779.80 941.10,786.95 933.95,779.80" fill="#04cdd0" stroke="#000" stroke-width="1.5" stroke-linejoin="miter"/>
<polygon points="958.20,766.65 965.35,773.80 958.20,780.95 951.05,773.80" fill="#04cdd0" stroke="#000" stroke-width="1.5" stroke-linejoin="miter"/>
<polygon points="992.60,783.15 999.75,790.30 992.60,797.45 985.45,790.30" fill="#04cdd0" stroke="#000" stroke-width="1.5" stroke-linejoin="miter"/>
<polygon points="1004.60,772.65 1011.75,779.80 1004.60,786.95 997.45,779.80" fill="#04cdd0" stroke="#000" stroke-width="1.5" stroke-linejoin="miter"/>
<polygon points="1029.30,782.85 1036.45,790.00 1029.30,797.15 1022.15,790.00" fill="#04cdd0" stroke="#000" stroke-width="1.5" stroke-linejoin="miter"/>
<polygon points="1067.20,779.35 1074.35,786.50 1067.20,793.65 1060.05,786.50" fill="#04cdd0" stroke="#000" stroke-width="1.5" stroke-linejoin="miter"/>
<polygon points="1066.30,789.85 1073.45,797.00 1066.30,804.15 1059.15,797.00" fill="#04cdd0" stroke="#000" stroke-width="1.5" stroke-linejoin="miter"/>
<polygon points="1098.40,772.65 1105.55,779.80 1098.40,786.95 1091.25,779.80" fill="#04cdd0" stroke="#000" stroke-width="1.5" stroke-linejoin="miter"/>
<polygon points="1129.20,771.45 1136.35,778.60 1129.20,785.75 1122.05,778.60" fill="#04cdd0" stroke="#000" stroke-width="1.5" stroke-linejoin="miter"/>
<polygon points="1155.70,765.85 1162.85,773.00 1155.70,780.15 1148.55,773.00" fill="#04cdd0" stroke="#000" stroke-width="1.5" stroke-linejoin="miter"/>
<polygon points="1196.10,787.35 1203.25,794.50 1196.10,801.65 1188.95,794.50" fill="#04cdd0" stroke="#000" stroke-width="1.5" stroke-linejoin="miter"/>
<polygon points="1198.90,745.55 1206.05,752.70 1198.90,759.85 1191.75,752.70" fill="#04cdd0" stroke="#000" stroke-width="1.5" stroke-linejoin="miter"/>
<polygon points="1212.00,709.35 1219.15,716.50 1212.00,723.65 1204.85,716.50" fill="#04cdd0" stroke="#000" stroke-width="1.5" stroke-linejoin="miter"/>
<polygon points="1236.50,661.45 1243.65,668.60 1236.50,675.75 1229.35,668.60" fill="#04cdd0" stroke="#000" stroke-width="1.5" stroke-linejoin="miter"/>
<polygon points="958.50,724.40 965.70,738.20 951.30,738.20" fill="#999a00" stroke="#000" stroke-width="1.5" stroke-linejoin="miter"/>
<polygon points="992.40,736.35 999.60,750.15 985.20,750.15" fill="#999a00" stroke="#000" stroke-width="1.5" stroke-linejoin="miter"/>
<polygon points="1004.50,732.15 1011.70,745.95 997.30,745.95" fill="#999a00" stroke="#000" stroke-width="1.5" stroke-linejoin="miter"/>
<polygon points="1029.60,722.70 1036.80,736.50 1022.40,736.50" fill="#999a00" stroke="#000" stroke-width="1.5" stroke-linejoin="miter"/>
<polygon points="1067.40,724.00 1074.60,737.80 1060.20,737.80" fill="#999a00" stroke="#000" stroke-width="1.5" stroke-linejoin="miter"/>
<polygon points="1098.30,657.45 1105.50,671.25 1091.10,671.25" fill="#999a00" stroke="#000" stroke-width="1.5" stroke-linejoin="miter"/>
<polygon points="1129.20,636.15 1136.40,649.95 1122.00,649.95" fill="#999a00" stroke="#000" stroke-width="1.5" stroke-linejoin="miter"/>
<polygon points="1155.70,605.80 1162.90,619.60 1148.50,619.60" fill="#999a00" stroke="#000" stroke-width="1.5" stroke-linejoin="miter"/>
<rect x="843.50" y="596.40" width="498.30" height="362.10" fill="none" stroke="#000" stroke-width="2.6"/>
<path d="M750,0L750,1430L560,1430C555,1260 430,1185 210,1180L210,1008L560,1008L560,0Z" transform="translate(968.96,687.30) scale(0.01636,-0.01636)" fill="#9a9a12"/>
<text x="987.60" y="687.30" font-size="33.5" fill="#9a9a12">.5</text>
<text x="1024.84" y="687.30" font-size="33.5" fill="#9a9a12">T</text>
<line x1="1005.80" y1="695.50" x2="1028.10" y2="726.60" stroke="#9a9a12" stroke-width="1.2" />
<text x="1114.02" y="740.30" font-size="33.5" fill="#14c4c8">3</text>
<line x1="1122.80" y1="749.90" x2="1127.90" y2="772.20" stroke="#14c4c8" stroke-width="1.2" />
<path d="M750,0L750,1430L560,1430C555,1260 430,1185 210,1180L210,1008L560,1008L560,0Z" transform="translate(1004.16,927.50) scale(0.01636,-0.01636)" fill="#8e3ae6"/>
<text x="1022.80" y="927.50" font-size="33.5" fill="#8e3ae6">0</text>
<line x1="1022.90" y1="892.30" x2="1028.40" y2="865.00" stroke="#8e3ae6" stroke-width="1.2" />
<path d="M750,0L750,1430L560,1430C555,1260 430,1185 210,1180L210,1008L560,1008L560,0Z" transform="translate(780.43,655.50) scale(0.01636,-0.01636)" fill="#000"/>
<text x="799.07" y="655.50" font-size="33.5" fill="#000">0</text>
<text x="817.70" y="643.15" font-size="25" fill="#000">0</text>
<path d="M750,0L750,1430L560,1430C555,1260 430,1185 210,1180L210,1008L560,1008L560,0Z" transform="translate(765.83,815.60) scale(0.01636,-0.01636)" fill="#000"/>
<text x="784.47" y="815.60" font-size="33.5" fill="#000">0</text>
<text x="803.10" y="802.80" font-size="25" fill="#000">−</text>
<path d="M750,0L750,1430L560,1430C555,1260 430,1185 210,1180L210,1008L560,1008L560,0Z" transform="translate(815.70,802.80) scale(0.01221,-0.01221)" fill="#000"/>
<path d="M750,0L750,1430L560,1430C555,1260 430,1185 210,1180L210,1008L560,1008L560,0Z" transform="translate(765.83,967.40) scale(0.01636,-0.01636)" fill="#000"/>
<text x="784.47" y="967.40" font-size="33.5" fill="#000">0</text>
<text x="803.10" y="954.70" font-size="25" fill="#000">−2</text>
<g transform="translate(752.0,913.7) rotate(-90)">
<text x="-2.11" y="0.00" font-size="34.0" fill="#000">(</text>
<g transform="translate(15.16,0.00) scale(1.0119)" fill="none" stroke="#000"><path d="M5.0,-13.7L16.7,-13.7" stroke-width="2.9"/><path d="M6.0,-13.0C4.3,-12.4 2.5,-11.0 1.5,-9.0" stroke-width="1.5"/><path d="M9.4,-12.4C8.3,-8.5 6.3,-4.2 5.6,-1.2C5.2,0.2 5.9,1.0 7.3,0.9C9.3,0.6 11.1,-1.5 11.6,-3.8" stroke-width="2.2"/></g>
<text x="27.88" y="0.00" font-size="34.0" font-style="italic" fill="#000">T</text>
<path d="M750,0L750,1430L560,1430C555,1260 430,1185 210,1180L210,1008L560,1008L560,0Z" transform="translate(48.65,-11.10) scale(0.01221,-0.01221)" fill="#000"/>
<text x="62.55" y="-11.10" font-size="25.0" fill="#000">.3</text>
<text x="83.40" y="0.00" font-size="34.0" fill="#000">)</text>
<text x="94.72" y="-11.10" font-size="25.0" fill="#000">−</text>
<path d="M750,0L750,1430L560,1430C555,1260 430,1185 210,1180L210,1008L560,1008L560,0Z" transform="translate(107.82,-11.10) scale(0.01221,-0.01221)" fill="#000"/>
<text x="131.17" y="0.00" font-size="34.0" fill="#000">(s</text>
<text x="159.49" y="-11.10" font-size="25.0" fill="#000">−</text>
<path d="M750,0L750,1430L560,1430C555,1260 430,1185 210,1180L210,1008L560,1008L560,0Z" transform="translate(172.59,-11.10) scale(0.01221,-0.01221)" fill="#000"/>
<text x="195.94" y="0.00" font-size="34.0" fill="#000">K</text>
<text x="218.62" y="-11.10" font-size="25.0" fill="#000">−</text>
<path d="M750,0L750,1430L560,1430C555,1260 430,1185 210,1180L210,1008L560,1008L560,0Z" transform="translate(231.72,-11.10) scale(0.01221,-0.01221)" fill="#000"/>
<text x="245.62" y="-11.10" font-size="25.0" fill="#000">.3</text>
<text x="266.47" y="0.00" font-size="34.0" fill="#000">)</text>
</g>
<text x="859.63" y="993.30" font-size="29.5" fill="#000">6</text>
<text x="898.63" y="993.30" font-size="29.5" fill="#000">8</text>
<text x="1022.51" y="993.30" font-size="29.5" fill="#000">2</text>
<text x="1116.31" y="993.30" font-size="29.5" fill="#000">4</text>
<text x="1170.93" y="993.30" font-size="29.5" fill="#000">6</text>
<text x="1209.93" y="993.30" font-size="29.5" fill="#000">8</text>
<text x="1333.81" y="993.30" font-size="29.5" fill="#000">2</text>
<text x="911.24" y="1035.40" font-size="33.5" fill="#000">0.</text>
<path d="M750,0L750,1430L560,1430C555,1260 430,1185 210,1180L210,1008L560,1008L560,0Z" transform="translate(939.18,1035.40) scale(0.01636,-0.01636)" fill="#000"/>
<path d="M750,0L750,1430L560,1430C555,1260 430,1185 210,1180L210,1008L560,1008L560,0Z" transform="translate(1240.25,1035.40) scale(0.01636,-0.01636)" fill="#000"/>
<text x="1031.05" y="1069.10" font-size="34" font-style="italic" fill="#000">T</text>
<text x="1058.81" y="1069.10" font-size="34" fill="#000">(K)</text>
<text x="-0.19" y="27.60" font-size="40.5" font-weight="bold" fill="#000">a</text>
<text x="717.53" y="28.10" font-size="40.5" font-weight="bold" fill="#000">b</text>
<text x="718.12" y="592.30" font-size="40.5" font-weight="bold" fill="#000">c</text>
</svg></body></html>
